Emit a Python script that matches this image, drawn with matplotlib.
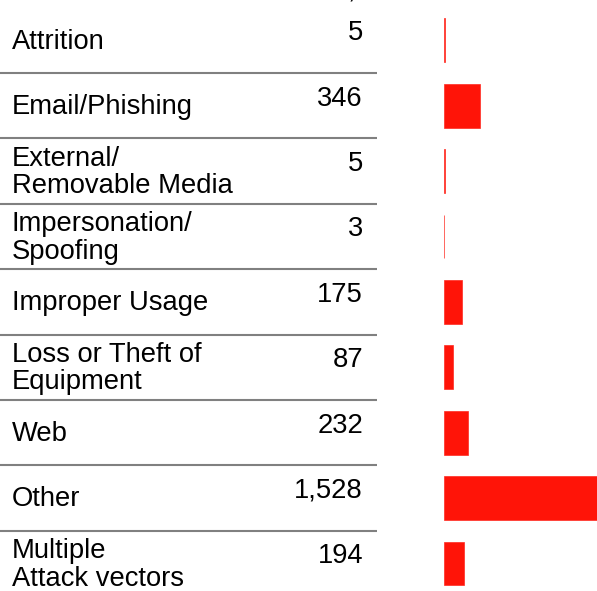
import matplotlib.pyplot as plt

# Incident counts by attack vector
categories = ['Attrition', 'Email/Phishing', 'External/\nRemovable Media',
              'Impersonation/\nSpoofing', 'Improper Usage',
              'Loss or Theft of\nEquipment', 'Web', 'Other',
              'Multiple\nAttack vectors']
counts = [5, 346, 5, 3, 175, 87, 232, 1528, 194]
count_labels = ['5', '346', '5', '3', '175', '87', '232', '1,528', '194']

plt.rcParams['font.family'] = ['Liberation Sans', 'DejaVu Sans']

W, H = 597, 591
fig = plt.figure(figsize=(W / 100, H / 100), dpi=100)

row_h = 65.4
top = 7.6
n = len(categories)
ax_bottom = 1 - (top + n * row_h) / H
ax_height = n * row_h / H

# table part (labels, values, separators)
tab = fig.add_axes([0, ax_bottom, 1, ax_height])
tab.set_xlim(0, W)
tab.set_ylim(n - 0.5, -0.5)
tab.axis('off')

for i, (cat, lab) in enumerate(zip(categories, count_labels)):
    tab.text(12, i + 0.02, cat, ha='left', va='center', fontsize=19.7,
             linespacing=1.08, color='black')
    tab.text(363, i - 0.11, lab, ha='right', va='center', fontsize=19.7,
             color='black')
    if i < n - 1:
        tab.plot([0, 377], [i + 0.5, i + 0.5], color='#808080', lw=1.5,
                 solid_capstyle='butt')

# bar part
bx = fig.add_axes([444 / W, ax_bottom, 1 - 444 / W, ax_height])
bx.barh(range(n), counts, height=0.67, color='#ff1408',
        edgecolor='#ff2a20', linewidth=0.5)
bx.set_xlim(0, (W - 444) * 9.65)
bx.set_ylim(n - 0.5, -0.5)
bx.axis('off')

# cut-off header fragment at the very top
fig.text(348 / W, 1 + 1.5 / H, ',', ha='left', va='baseline', fontsize=19.7)

fig.savefig('out.png', dpi=100)
